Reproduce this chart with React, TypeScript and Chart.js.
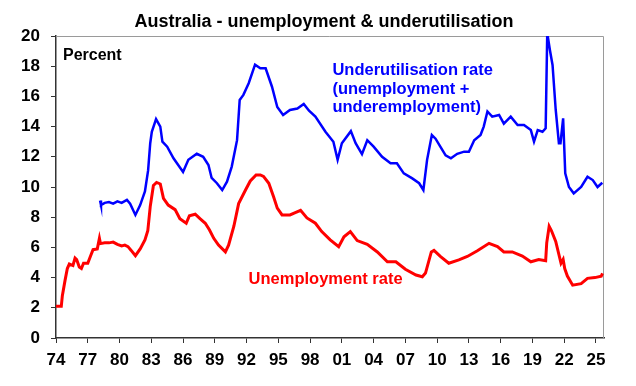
import React, { useEffect, useRef } from 'react';
import { Chart, registerables } from 'chart.js';

Chart.register(...registerables);

const FONT = "'Liberation Sans', Arial, Helvetica, sans-serif";

// X tick years (labels shown as 2-digit years)
const xTickYears = [1974, 1977, 1980, 1983, 1986, 1989, 1992, 1995, 1998, 2001, 2004, 2007, 2010, 2013, 2016, 2019, 2022, 2025];

// Unemployment rate (red)
const unempYears = [
  1974.0, 1974.5, 1974.6, 1974.85, 1975.07, 1975.26, 1975.6, 1975.8, 1975.95, 1976.2, 1976.4, 1976.6, 1977.0,
  1977.3, 1977.5, 1977.9, 1978.1, 1978.2, 1978.6, 1979.0, 1979.4, 1979.8, 1980.2, 1980.5, 1980.8, 1981.1,
  1981.5, 1981.95, 1982.4, 1982.67, 1982.9, 1983.2, 1983.5, 1983.85, 1984.15, 1984.6, 1985.25, 1985.7,
  1986.3, 1986.6, 1987.15, 1987.6, 1988.1, 1988.5, 1988.9, 1989.35, 1990.0, 1990.3, 1990.8, 1991.25,
  1991.9, 1992.35, 1992.9, 1993.3, 1993.6, 1994.1, 1994.55, 1994.9, 1995.35, 1996.1, 1996.6, 1997.1,
  1997.7, 1998.5, 1999.1, 1999.9, 2000.7, 2001.2, 2001.8, 2002.45, 2003.4, 2004.35, 2005.3, 2006.1,
  2007.0, 2008.0, 2008.6, 2008.9, 2009.45, 2009.7, 2010.3, 2011.1, 2012.05, 2012.85, 2013.8, 2014.9,
  2015.7, 2016.3, 2017.1, 2018.05, 2018.85, 2019.6, 2020.25, 2020.35, 2020.58, 2020.8, 2021.2, 2021.7,
  2021.9, 2022.05, 2022.3, 2022.8, 2023.6, 2024.2, 2024.9, 2025.5, 2025.62,
];
const unempValues = [
  2.1, 2.1, 2.8, 3.8, 4.6, 4.9, 4.8, 5.3, 5.2, 4.7, 4.6, 4.95, 4.95,
  5.5, 5.85, 5.9, 6.6, 6.25, 6.3, 6.3, 6.35, 6.2, 6.1, 6.15, 6.05, 5.8,
  5.45, 5.9, 6.5, 7.1, 8.7, 10.1, 10.3, 10.2, 9.25, 8.8, 8.5, 7.9,
  7.6, 8.1, 8.2, 7.9, 7.6, 7.15, 6.6, 6.15, 5.7, 6.15, 7.4, 8.9,
  9.8, 10.4, 10.8, 10.8, 10.7, 10.25, 9.35, 8.6, 8.15, 8.15, 8.3, 8.45,
  7.95, 7.6, 7.05, 6.5, 6.05, 6.7, 7.05, 6.45, 6.2, 5.7, 5.05, 5.05,
  4.55, 4.17, 4.06, 4.3, 5.7, 5.8, 5.4, 4.95, 5.17, 5.4, 5.78, 6.27,
  6.05, 5.7, 5.7, 5.43, 5.05, 5.2, 5.12, 6.3, 7.4, 7.1, 6.4, 4.95,
  5.2, 4.6, 4.1, 3.5, 3.6, 3.95, 4.0, 4.1, 4.28,
];

// Underutilisation rate (blue)
const underYears = [
  1978.16, 1978.25, 1978.6, 1979.0, 1979.4, 1979.8, 1980.2, 1980.7, 1981.0, 1981.5, 1981.95, 1982.4,
  1982.7, 1982.9, 1983.05, 1983.45, 1983.85, 1984.05, 1984.5, 1985.1, 1986.0, 1986.5, 1987.3, 1987.9,
  1988.4, 1988.7, 1989.2, 1989.7, 1990.15, 1990.6, 1991.1, 1991.35, 1991.7, 1992.2, 1992.8, 1993.3,
  1993.8, 1994.4, 1994.9, 1995.45, 1996.1, 1996.8, 1997.4, 1997.9, 1998.5, 1999.45, 2000.2, 2000.6,
  2001.0, 2001.85, 2002.3, 2002.9, 2003.4, 2004.0, 2004.8, 2005.6, 2006.2, 2006.85, 2007.65, 2008.3,
  2008.7, 2009.05, 2009.5, 2009.85, 2010.3, 2010.8, 2011.3, 2011.9, 2012.55, 2013.0, 2013.5, 2014.1,
  2014.4, 2014.75, 2015.2, 2015.85, 2016.3, 2016.95, 2017.6, 2018.2, 2018.85, 2019.15, 2019.5, 2019.95,
  2020.25, 2020.4, 2020.65, 2020.9, 2021.2, 2021.5, 2021.65, 2021.9, 2022.1, 2022.45, 2022.9, 2023.6,
  2024.2, 2024.7, 2025.15, 2025.6,
];
const underValues = [
  9.1, 8.8, 8.95, 9.0, 8.9, 9.05, 8.95, 9.15, 8.9, 8.15, 8.8, 9.7,
  11.1, 12.9, 13.66, 14.5, 14.0, 13.0, 12.67, 11.9, 11.0, 11.8, 12.2, 12.0,
  11.46, 10.6, 10.25, 9.8, 10.35, 11.35, 13.1, 15.76, 16.1, 16.87, 18.1, 17.86,
  17.86, 16.64, 15.3, 14.77, 15.1, 15.2, 15.5, 15.05, 14.66, 13.66, 13.0, 11.8,
  12.9, 13.7, 12.9, 12.18, 13.1, 12.67, 12.0, 11.57, 11.57, 10.9, 10.57, 10.25,
  9.8, 11.8, 13.44, 13.2, 12.67, 12.1, 11.9, 12.2, 12.34, 12.34, 13.1, 13.44,
  14.0, 15.0, 14.66, 14.77, 14.2, 14.66, 14.1, 14.1, 13.77, 13.0, 13.77, 13.66,
  13.89, 20.2, 19.07, 18.08, 15.1, 12.9, 12.9, 14.55, 10.9, 10.0, 9.58, 10.0,
  10.68, 10.46, 10.0, 10.28,
];

const titleText = 'Australia - unemployment & underutilisation';
const unitText = 'Percent';
const blueLabelLines = ['Underutilisation rate', '(unemployment +', 'underemployment)'];
const blueLabelAt = { x: 2000.11, y: [17.42, 16.19, 14.97] };
const redLabelText = 'Unemployment rate';
const redLabelAt = { x: 1992.19, y: 3.58 };

const toPoints = (xs: number[], ys: number[]) => xs.map((x, i) => ({ x, y: ys[i] }));

export default function App() {
  const ref = useRef<HTMLCanvasElement>(null);

  useEffect(() => {
    const framePlugin = {
      id: 'frame',
      beforeDatasetsDraw(chart: any) {
        const { ctx, chartArea } = chart;
        const { left, top, right, bottom } = chartArea;
        ctx.save();
        ctx.strokeStyle = '#9a9a9a';
        ctx.lineWidth = 1;
        ctx.beginPath();
        ctx.moveTo(left, top + 0.5);
        ctx.lineTo(right - 0.5, top + 0.5);
        ctx.lineTo(right - 0.5, bottom);
        ctx.stroke();
        ctx.restore();
      },
    };
    const textPlugin = {
      id: 'texts',
      afterDraw(chart: any) {
        const { ctx, chartArea, scales } = chart;
        const xs = scales.x;
        const ys = scales.y;
        ctx.save();
        ctx.textBaseline = 'alphabetic';
        ctx.fillStyle = '#000';
        ctx.font = `bold 18px ${FONT}`;
        ctx.textAlign = 'center';
        ctx.fillText(titleText, (chartArea.left + chartArea.right) / 2 - 6, 27);
        ctx.textAlign = 'left';
        ctx.font = `bold 16px ${FONT}`;
        ctx.fillText(unitText, chartArea.left + 7, chartArea.top + 24);
        ctx.fillStyle = '#0000ff';
        ctx.font = `bold 16.5px ${FONT}`;
        blueLabelLines.forEach((t, i) => {
          ctx.fillText(t, xs.getPixelForValue(blueLabelAt.x), ys.getPixelForValue(blueLabelAt.y[i]));
        });
        ctx.fillStyle = '#ff0000';
        ctx.fillText(redLabelText, xs.getPixelForValue(redLabelAt.x), ys.getPixelForValue(redLabelAt.y));
        ctx.restore();
      },
    };

    const chart = new Chart(ref.current as HTMLCanvasElement, {
      type: 'line',
      data: {
        datasets: [
          {
            label: 'Underutilisation rate',
            data: toPoints(underYears, underValues),
            borderColor: '#0000ff',
            borderWidth: 2.5,
            pointRadius: 0,
            tension: 0,
            fill: false,
          },
          {
            label: 'Unemployment rate',
            data: toPoints(unempYears, unempValues),
            borderColor: '#ff0000',
            borderWidth: 3,
            pointRadius: 0,
            tension: 0,
            fill: false,
          },
        ],
      },
      options: {
        responsive: false,
        animation: false,
        devicePixelRatio: 1,
        parsing: false,
        layout: { padding: { top: 36, right: 32, left: 0, bottom: 0 } },
        plugins: {
          legend: { display: false },
          tooltip: { enabled: false },
          title: { display: false },
        },
        scales: {
          x: {
            type: 'linear',
            min: 1974,
            max: 2025.76,
            afterBuildTicks: (s: any) => {
              s.ticks = xTickYears.map((v) => ({ value: v }));
            },
            afterFit: (s: any) => {
              s.height = 48;
            },
            ticks: {
              autoSkip: false,
              maxRotation: 0,
              padding: 7,
              color: '#000',
              font: { family: FONT, size: 17, weight: 'bold' },
              callback: (v: any) => String(Number(v) % 100).padStart(2, '0'),
            },
            grid: { drawOnChartArea: false, drawTicks: true, tickLength: 5, color: '#333' },
            border: { display: true, color: '#333', width: 1.5 },
          },
          y: {
            min: 0,
            max: 20,
            afterFit: (s: any) => {
              s.width = 56;
            },
            ticks: {
              stepSize: 2,
              padding: 11,
              color: '#000',
              font: { family: FONT, size: 17, weight: 'bold' },
            },
            grid: { drawOnChartArea: false, drawTicks: true, tickLength: 5, color: '#333' },
            border: { display: true, color: '#333', width: 1.5 },
          },
        },
      },
      plugins: [framePlugin, textPlugin],
    } as any);

    return () => chart.destroy();
  }, []);

  return (
    <div style={{ position: 'absolute', left: 0, top: 0, width: 636, height: 386, background: '#fff' }}>
      <canvas ref={ref} width={636} height={386} style={{ width: 636, height: 386, display: 'block' }} />
    </div>
  );
}
